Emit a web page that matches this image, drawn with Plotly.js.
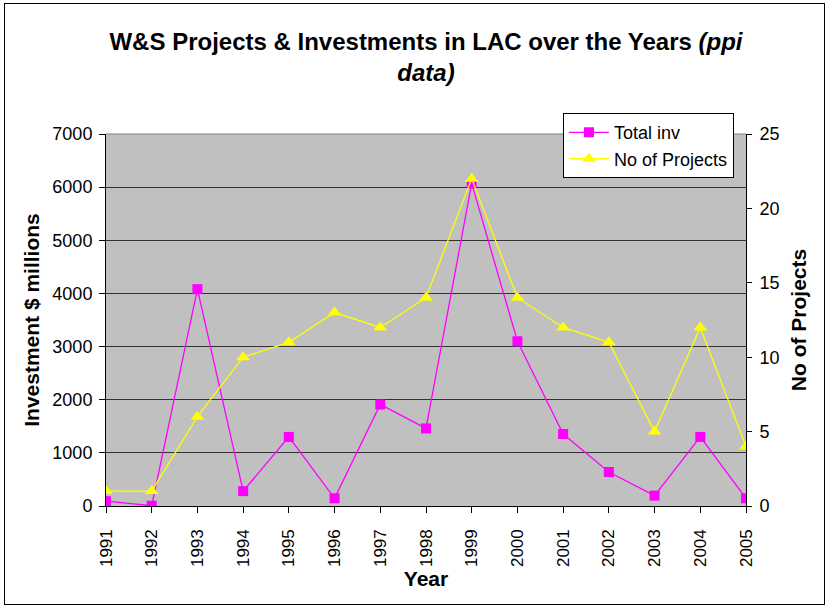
<!DOCTYPE html>
<html>
<head>
<meta charset="utf-8">
<script src="https://cdn.plot.ly/plotly-3.0.1.min.js"></script>
<style>
html,body{margin:0;padding:0;background:#fff;}
#wrap{position:relative;width:828px;height:608px;}
#chart{width:828px;height:608px;}
#frame{position:absolute;left:4px;top:3px;width:819px;height:600px;border:1px solid #000;pointer-events:none;}
</style>
</head>
<body>
<div id="wrap"><div id="chart"></div><div id="frame"></div></div>
<script>
const years = [1991,1992,1993,1994,1995,1996,1997,1998,1999,2000,2001,2002,2003,2004,2005];
const totalInv = [90,5,4080,280,1300,145,1910,1460,6070,3100,1355,640,195,1300,145];
const noProjects = [1,1,6,10,11,13,12,14,22,14,12,11,5,12,4];
const yearLabels = years.map(String);

const font = "Liberation Sans, Arial, sans-serif";

const traces = [
  {
    x: years, y: totalInv, name: 'Total inv', type: 'scatter', mode: 'lines+markers',
    line: {color: '#FF00FF', width: 1.3},
    marker: {symbol: 'square', size: 10, color: '#FF00FF'},
    yaxis: 'y'
  },
  {
    x: years, y: noProjects, name: 'No of Projects', type: 'scatter', mode: 'lines+markers',
    line: {color: '#FFFF00', width: 1.3},
    marker: {symbol: 'triangle-up', size: 12, color: '#FFFF00'},
    yaxis: 'y2'
  }
];

const layout = {
  width: 828, height: 608,
  margin: {l: 106, r: 82, t: 134, b: 102},
  paper_bgcolor: '#FFFFFF',
  plot_bgcolor: '#C0C0C0',
  font: {family: font, color: '#000', size: 18},
  title: {
    text: 'W&S Projects & Investments in LAC over the Years <i>(ppi</i><br><i>data)</i>',
    font: {family: font, size: 24, color: '#000', weight: 'bold'},
    xref: 'paper', x: 0.5, xanchor: 'center', y: 0.918, yanchor: 'top'
  },
  showlegend: true,
  legend: {
    x: 0.714, y: 1.056, xanchor: 'left', yanchor: 'top',
    bgcolor: '#FFFFFF', bordercolor: '#000', borderwidth: 1,
    font: {family: font, size: 18, color: '#000'},
    itemwidth: 40
  },
  xaxis: {
    range: [1991, 2005],
    tickvals: years, ticktext: yearLabels.map(s => s + '\u00a0\u00a0'),
    tickangle: -90,
    ticks: 'outside', ticklen: 6, tickcolor: '#000',
    showline: true, linecolor: '#000', linewidth: 1,
    showgrid: false, zeroline: false,
    tickfont: {family: font, size: 17},
    title: {text: 'Year', font: {family: font, size: 21, weight: 'bold'}, standoff: 4}
  },
  yaxis: {
    range: [0, 7000], dtick: 1000,
    ticks: 'outside', ticklen: 6, tickcolor: '#000',
    ticklabelstandoff: 3,
    showline: true, linecolor: '#000', linewidth: 1,
    showgrid: true, gridcolor: '#333333', gridwidth: 1,
    zeroline: false,
    tickfont: {family: font, size: 18},
    title: {text: 'Investment $ millions', font: {family: font, size: 21, weight: 'bold'}, standoff: 7}
  },
  yaxis2: {
    range: [0, 25], dtick: 5, overlaying: 'y', side: 'right',
    ticks: 'outside', ticklen: 5, tickcolor: '#000',
    ticklabelstandoff: 4,
    showline: true, linecolor: '#000', linewidth: 1,
    showgrid: false, zeroline: false,
    tickfont: {family: font, size: 18},
    title: {text: 'No of Projects', font: {family: font, size: 21, weight: 'bold'}, standoff: 12}
  },
  shapes: [
    {type: 'line', xref: 'paper', yref: 'paper', x0: 0, x1: 1, y0: 1, y1: 1, line: {color: '#808080', width: 1}}
  ]
};

Plotly.newPlot('chart', traces, layout, {displayModeBar: false, staticPlot: true});
</script>
</body>
</html>
